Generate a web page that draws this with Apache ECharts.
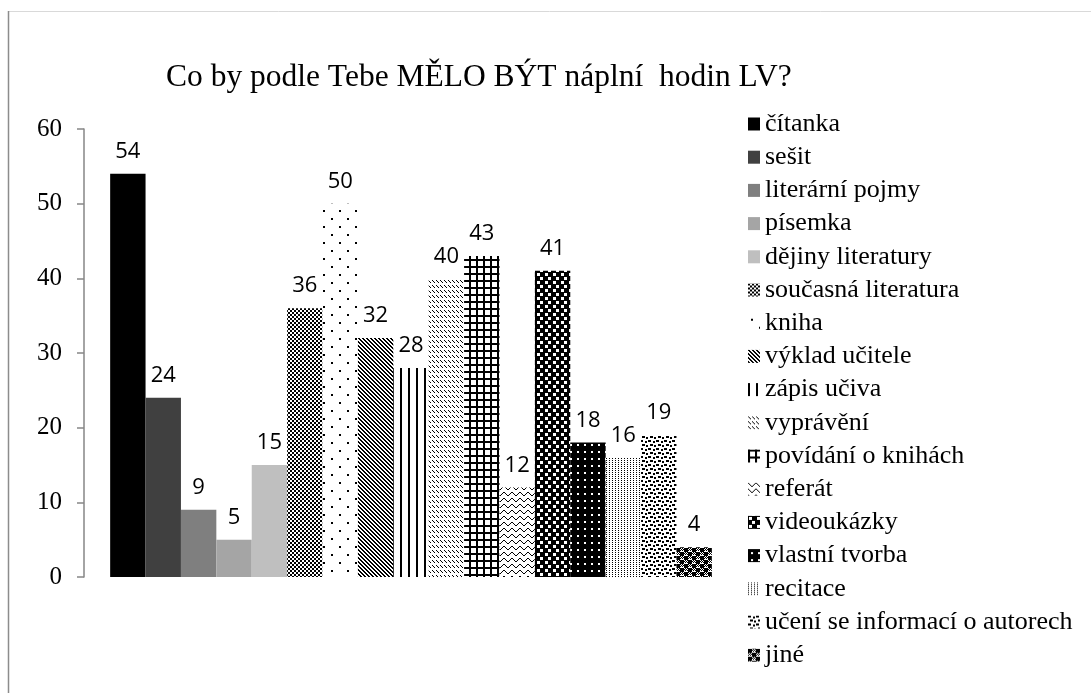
<!DOCTYPE html>
<html>
<head>
<meta charset="utf-8">
<script src="https://cdn.jsdelivr.net/npm/echarts@6/dist/echarts.min.js"></script>
<style>
html,body{margin:0;padding:0;background:#fff;}
#main{width:1091px;height:693px;}
</style>
</head>
<body>
<div id="main"></div>
<script>
// ---- data ----
const titleText = 'Co by podle Tebe MĚLO BÝT náplní  hodin LV?';
const seriesNames = ['čítanka','sešit','literární pojmy','písemka','dějiny literatury','současná literatura','kniha','výklad učitele','zápis učiva','vyprávění','povídání o knihách','referát','videoukázky','vlastní tvorba','recitace','učení se informací o autorech','jiné'];
const seriesValues = [54,24,9,5,15,36,50,32,28,40,43,12,41,18,16,19,4];
const yTicks = {min:0, max:60, interval:10};

// ---- fill styles (pixel pattern tiles) ----
function tile(rows){
  const h = rows.length, w = rows[0].length;
  const c = document.createElement('canvas');
  c.width = w; c.height = h;
  const ctx = c.getContext('2d');
  ctx.fillStyle = '#fff'; ctx.fillRect(0,0,w,h);
  ctx.fillStyle = '#000';
  for(let y=0;y<h;y++) for(let x=0;x<w;x++) if(rows[y][x]==='#') ctx.fillRect(x,y,1,1);
  return {image:c, repeat:'repeat'};
}
const fills = [
  '#000000','#404040','#7f7f7f','#a5a5a5','#bfbfbf',
  tile(['##..','##..','..##','..##']),
  tile(['................','................','...##...........','...##...........','................','................','................','................','................','................','...........##...','...........##...','................','................','................','................']),
  tile(['##..','.##.','..##','#..#']),
  tile(['##......']),
  tile(['#...','.#..','..#.','....','....']),
  tile(['#######','#######','##.....','##.....','##.....','##.....','##.....']),
  tile(['#......#','.#....#.','..#..#..','...##...','........','........']),
  tile(['########','#...####','#...####','#...####','########','####...#','####...#','####...#']),
  tile(['#######','#######','#######','###..##','###..##','#######','#######']),
  tile(['#..','...']),
  tile(['###.....','###..##.','.....##.','........','..###...','..###.##','......##','........']),
  tile(['####.#.#','#####.#.','####.#.#','####....','#.#.####','.#.#####','#.#.####','....####'])
];

const series = seriesNames.map((name,i)=>({
  name: name,
  type: 'bar',
  data: [seriesValues[i]],
  barGap: '0%',
  barCategoryGap: '8%',
  itemStyle: {color: fills[i]},
  label: {
    show: true, position: 'top', distance: 11,
    color: '#000', fontFamily: 'Open Sans', fontSize: 22
  },
  emphasis: {disabled: true}
}));

const chart = echarts.init(document.getElementById('main'), null, {renderer:'canvas'});
chart.setOption({
  animation: false,
  backgroundColor: '#fff',
  title: {
    text: titleText,
    left: 161, top: 57,
    textStyle: {fontFamily: 'Liberation Serif', fontSize: 31.5, fontWeight: 'normal', color: '#000'}
  },
  legend: {
    orient: 'vertical',
    left: 748, top: 111,
    padding: 0,
    itemWidth: 12, itemHeight: 13,
    itemGap: 7.2,
    icon: 'rect',
    selectedMode: false,
    textStyle: {fontFamily: 'Liberation Serif', fontSize: 26, lineHeight: 26, color: '#000', padding:[0,0,0,0]},
    data: seriesNames
  },
  grid: {left: 84, right: 353, top: 129, bottom: 116, containLabel: false},
  xAxis: {
    type: 'category', data: [''],
    axisLine: {show: false}, axisTick: {show: false}, axisLabel: {show: false}
  },
  yAxis: {
    type: 'value', min: yTicks.min, max: yTicks.max, interval: yTicks.interval,
    axisLine: {show: true, lineStyle: {color: '#868686', width: 1.5}},
    axisTick: {show: true, length: 7, lineStyle: {color: '#868686', width: 1.5}},
    splitLine: {show: false},
    axisLabel: {margin: 22, color: '#000', fontFamily: 'Liberation Serif', fontSize: 25}
  },
  graphic: [
    {type:'line', shape:{x1:8, y1:11.5, x2:1091, y2:11.5}, style:{stroke:'#d9d9d9', lineWidth:1}, silent:true},
    {type:'line', shape:{x1:8.5, y1:11, x2:8.5, y2:693}, style:{stroke:'#8c8c8c', lineWidth:1.5}, silent:true}
  ],
  series: series
});
</script>
</body>
</html>
